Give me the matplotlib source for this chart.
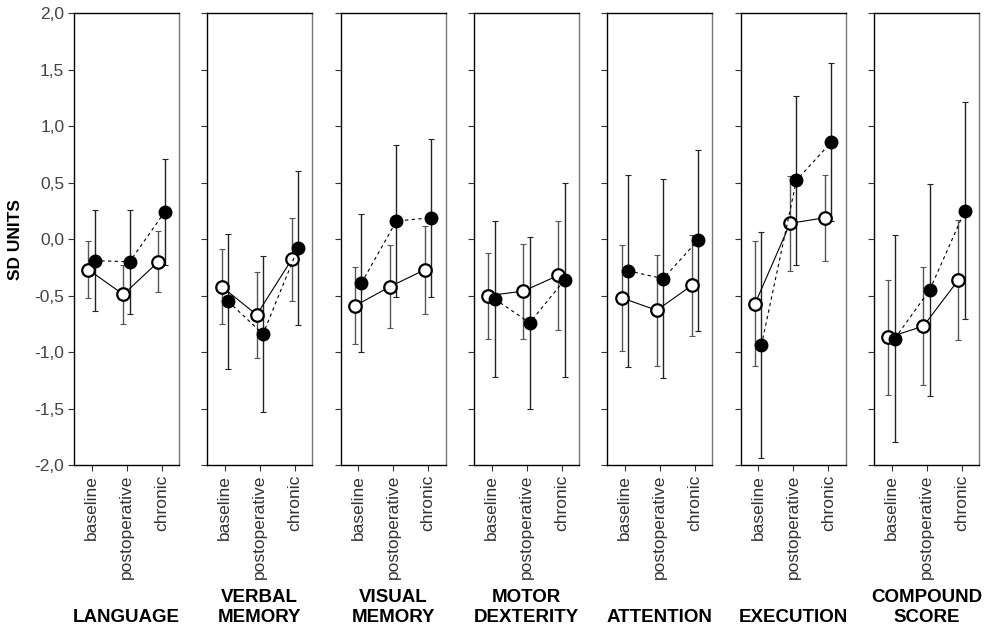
import numpy as np
import matplotlib
matplotlib.use("Agg")
import matplotlib.pyplot as plt

plt.rcParams['font.family'] = ['Liberation Sans', 'DejaVu Sans']

domains = ['LANGUAGE', 'VERBAL\nMEMORY', 'VISUAL\nMEMORY', 'MOTOR\nDEXTERITY',
           'ATTENTION', 'EXECUTION', 'COMPOUND\nSCORE']
phases = ['baseline', 'postoperative', 'chronic']

# open circles (solid line)
open_mean = [[-0.27, -0.49, -0.20],
             [-0.42, -0.67, -0.18],
             [-0.59, -0.42, -0.27],
             [-0.50, -0.46, -0.32],
             [-0.52, -0.63, -0.41],
             [-0.57, 0.14, 0.19],
             [-0.87, -0.77, -0.36]]
open_sd = [[0.25, 0.26, 0.27],
           [0.33, 0.38, 0.37],
           [0.34, 0.37, 0.39],
           [0.38, 0.42, 0.48],
           [0.47, 0.49, 0.45],
           [0.55, 0.42, 0.38],
           [0.51, 0.52, 0.53]]

# filled circles (dashed line)
fill_mean = [[-0.19, -0.20, 0.24],
             [-0.55, -0.84, -0.08],
             [-0.39, 0.16, 0.19],
             [-0.53, -0.74, -0.36],
             [-0.28, -0.35, -0.01],
             [-0.94, 0.52, 0.86],
             [-0.88, -0.45, 0.25]]
fill_sd = [[0.45, 0.46, 0.47],
           [0.60, 0.69, 0.68],
           [0.61, 0.67, 0.70],
           [0.69, 0.76, 0.86],
           [0.85, 0.88, 0.80],
           [1.00, 0.75, 0.70],
           [0.92, 0.94, 0.96]]

x = np.arange(1, 4)
off = 0.09

fig, axes = plt.subplots(1, 7, figsize=(9.87, 6.31), dpi=100, sharey=True)
fig.subplots_adjust(left=0.075, right=0.992, top=0.979, bottom=0.263, wspace=0.27)

for i, ax in enumerate(axes):
    ax.errorbar(x - off, open_mean[i], yerr=open_sd[i], fmt='none',
                ecolor='#555555', elinewidth=1, capsize=2, capthick=0.8, zorder=1)
    ax.errorbar(x + off, fill_mean[i], yerr=fill_sd[i], fmt='none',
                ecolor='#222222', elinewidth=1, capsize=2, capthick=0.8, zorder=1)
    ax.plot(x - off, open_mean[i], '-', color='black', lw=0.8, zorder=2,
            marker='o', ms=9, mfc='white', mec='black', mew=1.6)
    ax.plot(x + off, fill_mean[i], '--', color='black', lw=0.8, zorder=3,
            dashes=(3, 3), marker='o', ms=9, mfc='black', mec='black')

    ax.set_xlim(0.5, 3.5)
    ax.set_ylim(-2.0, 2.0)
    ax.set_xticks(x)
    ax.set_xticklabels(phases, rotation=90, fontsize=12.5, color='#444444')
    ax.set_yticks(np.arange(-2.0, 2.01, 0.5))
    ax.tick_params(direction='out', length=4, width=0.8, colors='#333333', pad=3)
    for s in ax.spines.values():
        s.set_linewidth(1)
        s.set_color('black')
    ax.spines['right'].set_color('#777777')

    # domain name under each panel
    ax.text(0.5, -0.356, domains[i], transform=ax.transAxes, ha='center', va='bottom',
            fontsize=13.5, fontweight='bold', linespacing=1.25)

axes[0].set_yticklabels([f'{v:.1f}'.replace('.', ',') for v in np.arange(-2.0, 2.01, 0.5)],
                        fontsize=12.5, color='#444444')
for ax in axes[1:]:
    ax.tick_params(labelleft=False)

axes[0].set_ylabel('SD UNITS', fontsize=12.5, fontweight='bold', labelpad=8)

fig.savefig('out.png', dpi=100)
